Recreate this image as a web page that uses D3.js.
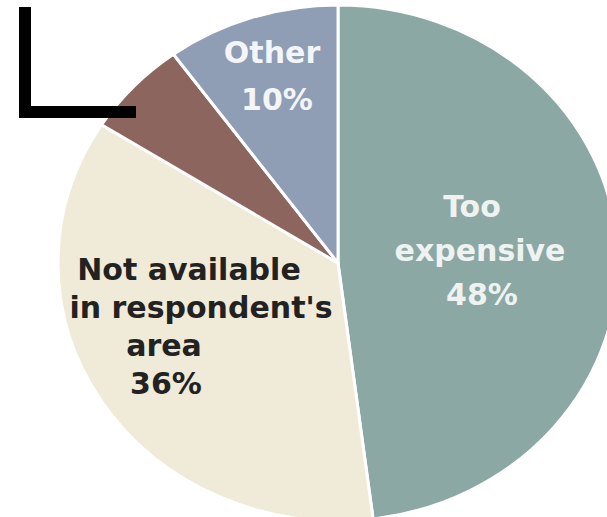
<!DOCTYPE html>
<html>
<head>
<meta charset="utf-8">
<script src="https://cdn.jsdelivr.net/npm/d3@7"></script>
<style>
  html, body { margin: 0; padding: 0; background: #ffffff; }
  svg { display: block; }
</style>
</head>
<body>
<svg id="chart" width="607" height="517"></svg>
<script>
// Reasons respondents gave, as shares of all responses (percent)
const categories = ["Too expensive", "Not available in respondent's area", "Unspecified", "Other"];
const shares = [48, 36, 6, 10];
const sliceColors = ["#8ca8a4", "#f0ead8", "#8c655f", "#8f9db5"];

// Label lines for each slice (empty array = slice carries no label)
const labelLines = [
  ["Too", "expensive", "48%"],
  ["Not available", "in respondent's", "area", "36%"],
  [],
  ["Other", "10%"]
];
const labelColors = ["#eef3f2", "#222222", "#ffffff", "#f3f5f8"];

const svg = d3.select("#chart");
const W = 607, H = 517;

// Pie geometry (drawn as a slightly widened ellipse)
const cx = 338, cy = 263, ry = 258, rx = 280;

const pie = d3.pie().sort(null).value(d => d)(shares);
const arc = d3.arc().innerRadius(0).outerRadius(ry);

const pieG = svg.append("g")
  .attr("transform", `translate(${cx},${cy}) scale(${rx / ry},1)`);

pieG.selectAll("path.slice")
  .data(pie)
  .join("path")
  .attr("class", "slice")
  .attr("d", arc)
  .attr("fill", (d, i) => sliceColors[i])
  .attr("stroke", "#ffffff")
  .attr("stroke-width", 3)
  .attr("stroke-linejoin", "round")
  .attr("vector-effect", "non-scaling-stroke");

// Label placement: offset of each label block from the pie centre
// and per-line horizontal nudges, line height in px
const labelLayout = [
  { dx: 142, dy: -46, lh: 44, nudge: [-8, 0, 2] },
  { dx: -150, dy: 17, lh: 38, nudge: [1, 13, -24, -22] },
  null,
  { dx: -64, dy: -200, lh: 47, nudge: [-2, 3] }
];

const labelG = svg.append("g").attr("transform", `translate(${cx},${cy})`);
labelLines.forEach((lines, i) => {
  const lay = labelLayout[i];
  if (!lay || !lines.length) return;
  const t = labelG.append("text")
    .attr("text-anchor", "middle")
    .attr("font-family", "'DejaVu Sans', Verdana, sans-serif")
    .attr("font-weight", "bold")
    .attr("font-size", 30)
    .attr("fill", labelColors[i]);
  lines.forEach((line, j) => {
    t.append("tspan")
      .attr("x", lay.dx + lay.nudge[j])
      .attr("y", lay.dy + j * lay.lh)
      .text(line);
  });
});

// Corner bracket drawn over the top-left of the figure
svg.append("path")
  .attr("d", "M25,7 V112 H136")
  .attr("fill", "none")
  .attr("stroke", "#000000")
  .attr("stroke-width", 12)
  .attr("stroke-linejoin", "miter");
</script>
</body>
</html>
